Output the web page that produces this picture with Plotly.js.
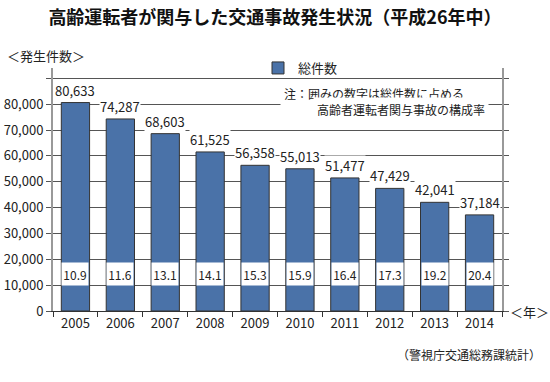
<!DOCTYPE html>
<html><head><meta charset="utf-8">
<script src="https://cdn.plot.ly/plotly-3.0.1.min.js"></script>
<style>html,body{margin:0;padding:0;background:#fff}#c{width:550px;height:382px}</style>
</head><body><div id="c"></div>
<script>
const years = ['2005','2006','2007','2008','2009','2010','2011','2012','2013','2014'];
const totals = [80633, 74287, 68603, 61525, 56358, 55013, 51477, 47429, 42041, 37184];
const shares = ['10.9','11.6','13.1','14.1','15.3','15.9','16.4','17.3','19.2','20.4'];
const yTickVals = [0,10000,20000,30000,40000,50000,60000,70000,80000,90000];
const yTickText = ['0','10,000','20,000','30,000','40,000','50,000','60,000','70,000','80,000',''];
const boxLevel = 14300;

const F = '"Noto Sans CJK JP", "Noto Sans", sans-serif';
const fmt = v => v.toLocaleString('en-US');

const annotations = [];
years.forEach((y,i)=>{
  annotations.push({x:i, y:totals[i], xref:'x', yref:'y', text:fmt(totals[i]), showarrow:false,
    yanchor:'bottom', yshift:2, font:{size:13, color:'#222', family:F}, bgcolor:'#fff', borderpad:0});
  annotations.push({x:i, y:boxLevel, xref:'x', yref:'y', text:shares[i], showarrow:false,
    width:26, height:22, bgcolor:'#fff', borderpad:0, font:{size:12, color:'#222', family:F}});
});
annotations.push({xref:'paper', yref:'paper', x:-0.107, y:1.053, xanchor:'left', yanchor:'middle',
  text:'＜発生件数＞', showarrow:false, font:{size:13, color:'#222', family:F}});
annotations.push({xref:'paper', yref:'paper', x:1.013, y:0, xanchor:'left', yanchor:'middle',
  text:'＜年＞', showarrow:false, font:{size:13, color:'#222', family:F}});
annotations.push({xref:'paper', yref:'paper', x:1.091, y:-0.181, xanchor:'right', yanchor:'middle',
  text:'（警視庁交通総務課統計）', showarrow:false, font:{size:12, color:'#222', family:F}});
annotations.push({xref:'paper', yref:'paper', x:(280-53)/449, y:(311-93)/243, xanchor:'left', yanchor:'middle',
  text:'注：囲みの数字は総件数に占める', showarrow:false, bgcolor:'#fff', borderpad:3, font:{size:12, color:'#222', family:F}});
annotations.push({xref:'paper', yref:'paper', x:(313-53)/449, y:(311-109)/243, xanchor:'left', yanchor:'middle',
  text:'高齢者運転者関与事故の構成率', showarrow:false, bgcolor:'#fff', borderpad:3, font:{size:12, color:'#222', family:F}});

const data = [{
  type:'bar', x:years, y:totals, name:'総件数',
  marker:{color:'#4a72a8', line:{color:'#333', width:1}},
  hoverinfo:'skip'
}];

const layout = {
  width:550, height:382,
  margin:{l:53, r:48, t:68, b:71},
  paper_bgcolor:'#fff', plot_bgcolor:'#fff',
  font:{family:F, color:'#222', size:13},
  title:{text:'高齢運転者が関与した交通事故発生状況（平成26年中）', x:0.5, xref:'container', xanchor:'center',
    y:1-18/382, yref:'container', yanchor:'middle', font:{size:18, color:'#111', family:F, weight:'bold'}},
  bargap:0.37,
  showlegend:true,
  legend:{orientation:'h', x:(258-53)/449, y:1.0, xanchor:'left', yanchor:'middle', bgcolor:'rgba(255,255,255,0)',
    font:{size:13, family:F, color:'#222'}},
  xaxis:{type:'category', range:[-0.5, years.length-0.5], showgrid:false, showline:true, linecolor:'#333', linewidth:1,
    ticks:'outside', tickson:'boundaries', ticklen:5, tickcolor:'#333', tickangle:0, tickfont:{size:13, color:'#222', family:F}, fixedrange:true},
  yaxis:{range:[0,94000], tickvals:yTickVals, ticktext:yTickText, showgrid:true, gridcolor:'#555', gridwidth:1,
    showline:true, linecolor:'#999', linewidth:2, mirror:'ticks', ticks:'outside', ticklen:5, tickcolor:'#555',
    tickfont:{size:13, color:'#222', family:F}, zeroline:false, fixedrange:true},
  annotations: annotations
};
Plotly.newPlot('c', data, layout, {displayModeBar:false, staticPlot:true});
</script></body></html>
